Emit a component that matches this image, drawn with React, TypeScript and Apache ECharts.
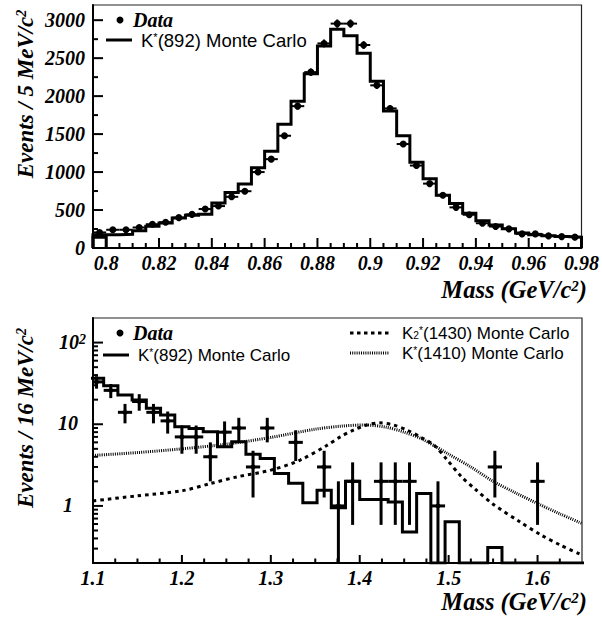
import React, { useEffect, useRef } from "react";
import * as echarts from "echarts";

// ---------------- Top panel: 5 MeV bins from 0.795 to 0.98 GeV ----------------
const topBinStart = 0.795;
const topBinWidth = 0.005;
const topMC = [
  175, 175, 180, 228, 285, 329, 395, 430, 445, 592, 732, 842, 1056, 1273, 1630, 1934, 2295, 2660, 2882,
  2794, 2564, 2195, 1803, 1477, 1130, 913, 695, 587, 456, 360, 304, 252, 196, 175, 160, 150, 143,
];
const topFirstBox = [140];
const topData = [
  205, 240, 240, 270, 313, 339, 400, 443, 513, 552, 674, 748, 1000, 1170, 1478, 1868, 2316, 2694, 2955,
  2955, 2673, 2142, 1838, 1369, 1086, 848, 695, 535, 438, 326, 282, 252, 186, 186, 160, 150, 143,
];
const topXMajor = [0.8, 0.82, 0.84, 0.86, 0.88, 0.9, 0.92, 0.94, 0.96, 0.98];
const topYMajor = [0, 500, 1000, 1500, 2000, 2500, 3000];

// ---------------- Bottom panel: 16 MeV bins from 1.096 GeV ----------------
const botBinStart = 1.096;
const botBinWidth = 0.016;
const botMC = [
  36.6, 29.7, 22.8, 19.8, 15.7, 13.0, 9.3, 8.9, 8.1, 5.3, 6.1, 4.3, 3.8, 2.5, 1.9, 1.09, 1.56, 0.95, 2.0,
  1.2, 1.2, 1.12, 0.48, 1.42, 0, 0.64, 0, 0, 0.31, 0, 0, 0, 0, 0, 0,
];
const botData = [
  33, 26, 14, 19, 14, 11, 7, 7, 4, 8, 9, 3, 9, 0, 6, 0, 3, 1, 2, 0, 2, 2, 2, 0, 1, 0, 0, 0, 3, 0, 0, 2, 0, 0, 0,
];
const k2Mass = [1.1, 1.15, 1.2, 1.232, 1.262, 1.3, 1.333, 1.363, 1.378, 1.393, 1.408, 1.423, 1.438, 1.453, 1.468, 1.483, 1.498, 1.514, 1.53, 1.55, 1.58, 1.604, 1.626, 1.65];
const k2Vals = [1.15, 1.33, 1.53, 1.88, 2.27, 2.74, 3.64, 5.5, 7.0, 8.5, 9.8, 10.4, 9.8, 8.5, 7.0, 5.6, 3.7, 2.3, 1.6, 1.05, 0.64, 0.44, 0.33, 0.25];
const k1410Mass = [1.1, 1.15, 1.2, 1.25, 1.3, 1.35, 1.38, 1.405, 1.43, 1.45, 1.47, 1.5, 1.525, 1.55, 1.575, 1.6, 1.625, 1.65];
const k1410Vals = [4.15, 4.5, 5.0, 5.7, 6.9, 8.7, 9.5, 9.8, 9.2, 8.0, 6.6, 4.3, 3.0, 2.0, 1.45, 1.07, 0.8, 0.61];
const botXMajor = [1.1, 1.2, 1.3, 1.4, 1.5, 1.6];
const botYMajor = [1, 10, 100];
const botYMinor = [0.2, 0.3, 0.4, 0.5, 0.6, 0.7, 0.8, 0.9, 2, 3, 4, 5, 6, 7, 8, 9, 20, 30, 40, 50, 60, 70, 80, 90];

const BOT_YMIN = 0.2;
const BOT_YMAX = 200;

const SERIF = '"Liberation Serif", "Times New Roman", serif';
const SANS = '"Liberation Sans", "DejaVu Sans", sans-serif';

function linearMinor(min: number, max: number, step: number, majors: number[]) {
  const out: number[] = [];
  const n = Math.round((max - min) / step);
  for (let i = 0; i <= n; i++) {
    const v = +(min + i * step).toFixed(6);
    if (v <= min + 1e-9 || v >= max - 1e-9) continue;
    if (majors.some((m) => Math.abs(m - v) < 1e-9)) continue;
    out.push(v);
  }
  return out;
}

function stepPoints(start: number, width: number, vals: number[], floor: number) {
  const pts: number[][] = [[start, floor]];
  vals.forEach((v, i) => {
    const a = +(start + i * width).toFixed(6);
    const b = +(start + (i + 1) * width).toFixed(6);
    const vv = Math.max(v, floor);
    pts.push([a, vv], [b, vv]);
  });
  pts.push([+(start + vals.length * width).toFixed(6), floor]);
  return pts;
}

const supRich = (size: number, font: string, italic = true, bold = true) => ({
  sup: {
    fontSize: size,
    lineHeight: size,
    fontFamily: font,
    fontStyle: italic ? "italic" : "normal",
    fontWeight: bold ? "bold" : "normal",
    verticalAlign: "top",
    fill: "#000",
    color: "#000",
  },
});

function tickSeries(grid: number, axis: "x" | "y", values: number[], anchor: number, len: number) {
  return {
    type: "custom",
    xAxisIndex: grid,
    yAxisIndex: grid,
    silent: true,
    clip: false,
    z: 10,
    data: values.map((v) => (axis === "x" ? [v, anchor, len] : [anchor, v, len])),
    renderItem: (params: any, api: any) => {
      const cs = params.coordSys;
      const p = api.coord([api.value(0), api.value(1)]);
      const l = api.value(2);
      if (axis === "x") {
        const yb = cs.y + cs.height;
        return { type: "line", shape: { x1: p[0], y1: yb, x2: p[0], y2: yb - l }, style: { stroke: "#000", lineWidth: 2 } };
      }
      const xl = cs.x;
      return { type: "line", shape: { x1: xl, y1: p[1], x2: xl + l, y2: p[1] }, style: { stroke: "#000", lineWidth: 2 } };
    },
  };
}

const axisLabelStyle = {
  fontFamily: SERIF,
  fontStyle: "italic",
  fontWeight: "bold",
  fontSize: 20,
  color: "#000",
};

function buildOption(): any {
  const topXMinor = linearMinor(0.795, 0.98, 0.005, topXMajor);
  const topYMinor = linearMinor(0, 3200, 250, topYMajor);
  const botXMinor = linearMinor(1.1, 1.65, 0.025, botXMajor);

  const topDataItems = topData.map((v, i) => [+(topBinStart + (i + 0.5) * topBinWidth).toFixed(5), v, Math.sqrt(v)]);
  const botDataItems = botData
    .map((v, i) => [+(botBinStart + (i + 0.5) * botBinWidth).toFixed(5), v, Math.sqrt(v)])
    .filter((d) => d[1] > 0);

  const legendText = (x: number, y: number, text: string, size: number) => ({
    type: "text",
    x,
    y,
    style: {
      text,
      fontFamily: SANS,
      fontSize: size,
      lineHeight: Math.round(size * 0.9),
      fill: "#000",
      align: "left",
      verticalAlign: "middle",
      textAlign: "left",
      textVerticalAlign: "middle",
      rich: {
        sup: { fontFamily: SANS, fontSize: size * 0.6, lineHeight: Math.round(size * 0.6), verticalAlign: "top", fill: "#000" },
        sub: { fontFamily: SANS, fontSize: size * 0.6, lineHeight: Math.round(size * 0.6), verticalAlign: "bottom", fill: "#000" },
      },
    },
  });
  const serifText = (x: number, y: number, text: string, size: number, align: string, rotation = 0) => ({
    type: "text",
    x,
    y,
    rotation,
    style: {
      text,
      fontFamily: SERIF,
      fontStyle: "italic",
      fontWeight: "bold",
      fontSize: size,
      lineHeight: Math.round(size * 0.9),
      fill: "#000",
      align,
      verticalAlign: "middle",
      textAlign: align,
      textVerticalAlign: "middle",
      rich: supRich(Math.round(size * 0.62), SERIF),
    },
  });

  return {
    animation: false,
    backgroundColor: "#fff",
    grid: [
      { left: 93, top: 5, width: 489, height: 243, show: true, borderColor: "#222", borderWidth: 1.2, backgroundColor: "transparent" },
      { left: 93, top: 318, width: 489, height: 245, show: true, borderColor: "#222", borderWidth: 1.2, backgroundColor: "transparent" },
    ],
    xAxis: [
      {
        gridIndex: 0,
        type: "value",
        min: 0.795,
        max: 0.98,
        axisLine: { show: true, onZero: false, lineStyle: { color: "#000", width: 2 } },
        axisTick: { show: false },
        splitLine: { show: false },
        axisLabel: { ...axisLabelStyle, margin: 5, customValues: topXMajor, formatter: (v: number) => String(+v.toFixed(2)) },
      },
      {
        gridIndex: 1,
        type: "value",
        min: 1.1,
        max: 1.65,
        axisLine: { show: true, onZero: false, lineStyle: { color: "#000", width: 2 } },
        axisTick: { show: false },
        splitLine: { show: false },
        axisLabel: { ...axisLabelStyle, margin: 5, customValues: botXMajor, formatter: (v: number) => v.toFixed(1) },
      },
    ],
    yAxis: [
      {
        gridIndex: 0,
        type: "value",
        min: 0,
        max: 3200,
        axisLine: { show: true, onZero: false, lineStyle: { color: "#000", width: 2 } },
        axisTick: { show: false },
        splitLine: { show: false },
        axisLabel: { ...axisLabelStyle, margin: 8, customValues: topYMajor, formatter: (v: number) => String(Math.round(v)) },
      },
      {
        gridIndex: 1,
        type: "log",
        logBase: 10,
        min: BOT_YMIN,
        max: BOT_YMAX,
        axisLine: { show: true, onZero: false, lineStyle: { color: "#000", width: 2 } },
        axisTick: { show: false },
        splitLine: { show: false },
        axisLabel: { show: false },
      },
    ],
    graphic: {
      elements: [
        // Top legend
        { type: "circle", shape: { cx: 120, cy: 20, r: 3.5 }, style: { fill: "#000" } },
        serifText(133, 20, "Data", 20, "left"),
        { type: "line", shape: { x1: 106, y1: 40, x2: 132, y2: 40 }, style: { stroke: "#000", lineWidth: 3 } },
        legendText(141, 40, "K{sup|*}(892) Monte Carlo", 18.5),
        // Bottom legend left
        { type: "circle", shape: { cx: 120, cy: 333, r: 3.5 }, style: { fill: "#000" } },
        serifText(133, 333, "Data", 20, "left"),
        { type: "line", shape: { x1: 103, y1: 355, x2: 129, y2: 355 }, style: { stroke: "#000", lineWidth: 3 } },
        legendText(138, 355, "K{sup|*}(892) Monte Carlo", 17),
        // Bottom legend right
        { type: "line", shape: { x1: 350, y1: 333, x2: 389, y2: 333 }, style: { stroke: "#000", lineWidth: 3, lineDash: [3.5, 3.5] } },
        legendText(402, 333, "K{sub|2}{sup|*}(1430) Monte Carlo", 17),
        { type: "line", shape: { x1: 350, y1: 353, x2: 389, y2: 353 }, style: { stroke: "#000", lineWidth: 3, lineDash: [1, 1.2] } },
        legendText(402, 353, "K{sup|*}(1410) Monte Carlo", 17),
        // Axis titles
        serifText(25, 94, "Events / 5 MeV/c{sup|2}", 23, "center", Math.PI / 2),
        serifText(25, 418, "Events / 16 MeV/c{sup|2}", 23, "center", Math.PI / 2),
        serifText(587, 289, "Mass (GeV/c{sup|2})", 24.5, "right"),
        serifText(587, 601, "Mass (GeV/c{sup|2})", 24.5, "right"),
      ],
    },
    series: [
      // Top MC histogram
      {
        type: "line",
        xAxisIndex: 0,
        yAxisIndex: 0,
        data: stepPoints(topBinStart, topBinWidth, topMC, 0),
        showSymbol: false,
        symbol: "none",
        lineStyle: { color: "#000", width: 3, join: "miter" },
        z: 3,
      },
      {
        type: "line",
        xAxisIndex: 0,
        yAxisIndex: 0,
        data: stepPoints(topBinStart, topBinWidth, topFirstBox, 0),
        showSymbol: false,
        symbol: "none",
        lineStyle: { color: "#000", width: 3, join: "miter" },
        z: 3,
      },
      // Top data
      {
        type: "custom",
        xAxisIndex: 0,
        yAxisIndex: 0,
        clip: true,
        z: 4,
        data: topDataItems,
        renderItem: (params: any, api: any) => {
          const x = api.value(0), y = api.value(1), e = api.value(2);
          const c = api.coord([x, y]);
          const l = api.coord([x - topBinWidth / 2, y]);
          const r = api.coord([x + topBinWidth / 2, y]);
          const t = api.coord([x, y + e]);
          const b = api.coord([x, y - e]);
          return {
            type: "group",
            children: [
              { type: "line", shape: { x1: l[0], y1: c[1], x2: r[0], y2: c[1] }, style: { stroke: "#000", lineWidth: 2 } },
              { type: "line", shape: { x1: c[0], y1: t[1], x2: c[0], y2: b[1] }, style: { stroke: "#000", lineWidth: 2 } },
              { type: "circle", shape: { cx: c[0], cy: c[1], r: 3.5 }, style: { fill: "#000" } },
            ],
          };
        },
      },
      tickSeries(0, "x", topXMajor, 1000, 10),
      tickSeries(0, "x", topXMinor, 1000, 5),
      tickSeries(0, "y", topYMajor, 0.9, 10),
      tickSeries(0, "y", topYMinor, 0.9, 5),

      // Bottom MC K*(892) histogram
      {
        type: "line",
        xAxisIndex: 1,
        yAxisIndex: 1,
        data: stepPoints(botBinStart, botBinWidth, botMC, BOT_YMIN),
        showSymbol: false,
        symbol: "none",
        lineStyle: { color: "#000", width: 3, join: "miter" },
        z: 3,
      },
      // K2*(1430)
      {
        type: "line",
        xAxisIndex: 1,
        yAxisIndex: 1,
        data: k2Mass.map((m, i) => [m, k2Vals[i]]),
        smooth: 0.3,
        showSymbol: false,
        symbol: "none",
        lineStyle: { color: "#000", width: 3, type: [3.5, 4] },
        z: 2,
      },
      // K*(1410)
      {
        type: "line",
        xAxisIndex: 1,
        yAxisIndex: 1,
        data: k1410Mass.map((m, i) => [m, k1410Vals[i]]),
        smooth: 0.3,
        showSymbol: false,
        symbol: "none",
        lineStyle: { color: "#000", width: 3, type: [1, 1.2] },
        z: 2,
      },
      // Bottom data
      {
        type: "custom",
        xAxisIndex: 1,
        yAxisIndex: 1,
        clip: true,
        z: 4,
        data: botDataItems,
        renderItem: (params: any, api: any) => {
          const x = api.value(0), y = api.value(1), e = api.value(2);
          const c = api.coord([x, y]);
          const l = api.coord([x - botBinWidth / 2, y]);
          const r = api.coord([x + botBinWidth / 2, y]);
          const t = api.coord([x, Math.min(y + e, BOT_YMAX)]);
          const b = api.coord([x, Math.max(y - e, BOT_YMIN)]);
          return {
            type: "group",
            children: [
              { type: "line", shape: { x1: l[0], y1: c[1], x2: r[0], y2: c[1] }, style: { stroke: "#000", lineWidth: 3 } },
              { type: "line", shape: { x1: c[0], y1: t[1], x2: c[0], y2: b[1] }, style: { stroke: "#000", lineWidth: 3 } },
              { type: "circle", shape: { cx: c[0], cy: c[1], r: 2.5 }, style: { fill: "#000" } },
            ],
          };
        },
      },
      tickSeries(1, "x", botXMajor, 1, 8),
      tickSeries(1, "x", botXMinor, 1, 4.5),
      tickSeries(1, "y", botYMajor, 1.3, 10),
      tickSeries(1, "y", botYMinor, 1.3, 5),
      // Bottom log-axis labels
      {
        type: "custom",
        xAxisIndex: 1,
        yAxisIndex: 1,
        clip: false,
        silent: true,
        data: botYMajor.map((v) => [1.3, v]),
        renderItem: (params: any, api: any) => {
          const v = api.value(1);
          const p = api.coord([1.3, v]);
          const cs = params.coordSys;
          const isHundred = Math.round(v) === 100;
          const text = isHundred ? "10{sup|2}" : String(Math.round(v));
          const align = isHundred ? "left" : "center";
          const x = isHundred ? cs.x - 34 : cs.x - 25;
          return {
            type: "text",
            x,
            y: p[1] - 1,
            style: {
              text,
              fontFamily: SERIF,
              fontStyle: "italic",
              fontWeight: "bold",
              fontSize: 20,
              lineHeight: 18,
              fill: "#000",
              align,
              verticalAlign: "middle",
              textAlign: align,
              textVerticalAlign: "middle",
              rich: supRich(14, SERIF),
            },
          };
        },
      },
    ],
  };
}

export default function App() {
  const ref = useRef<HTMLDivElement>(null);
  useEffect(() => {
    if (!ref.current) return;
    const chart = echarts.init(ref.current, null, { renderer: "svg" });
    chart.setOption(buildOption());
    return () => chart.dispose();
  }, []);
  return (
    <div
      ref={ref}
      style={{ position: "absolute", left: 0, top: 0, width: 602, height: 623, background: "#fff" }}
    />
  );
}
